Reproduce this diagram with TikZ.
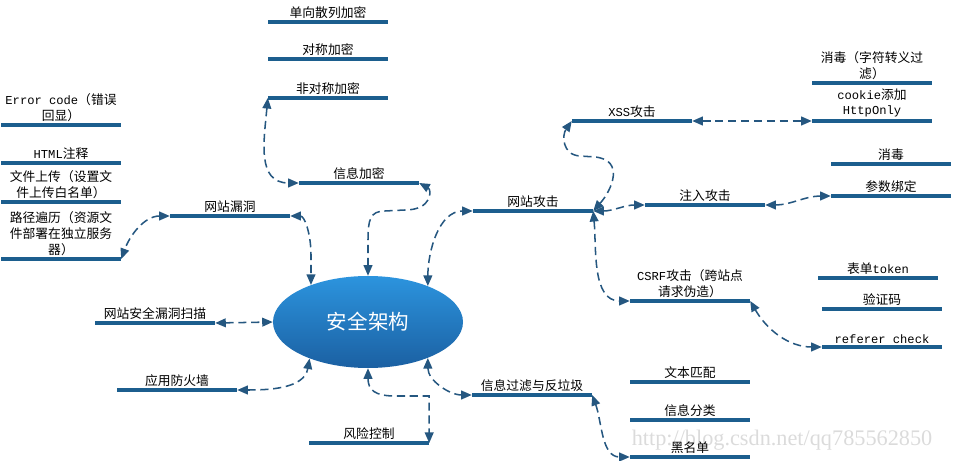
\documentclass[tikz,border=0pt]{standalone}
\usepackage{fontspec}
\setmainfont{Noto Sans CJK SC}
\newfontfamily\mono[Scale=0.95]{Liberation Mono}
\newfontfamily\markfont{Liberation Serif}
\usetikzlibrary{arrows.meta,shapes.geometric}
\definecolor{barblu}{RGB}{28,94,142}
\definecolor{linkblu}{RGB}{37,87,128}
\definecolor{coretop}{RGB}{44,148,222}
\definecolor{corebot}{RGB}{27,96,162}
\newcommand{\codetxt}[1]{{\mono #1}}

\begin{document}
\begin{tikzpicture}[
    x=0.03cm, y=-0.03cm,
    bar/.style={fill=barblu, inner sep=0pt, minimum height=0.12cm, minimum width=#1*0.03cm},
    bar/.default=120,
    lbl/.style={font=\fontsize{10.9}{13.5}\selectfont, align=center, inner sep=1pt},
    core/.style={ellipse, minimum width=5.7cm, minimum height=2.76cm, top color=coretop, bottom color=corebot, text=white, font=\fontsize{17.5}{20}\selectfont},
    link/.style={draw=linkblu, line width=1.3pt, dash pattern=on 7pt off 4pt, {Triangle[length=9pt,width=7.5pt]}-{Triangle[length=9pt,width=7.5pt]}}
]
\useasboundingbox (0,0) rectangle (954,461);

% Filigrana
\node[font=\markfont\fontsize{19}{20}\selectfont, text=gray!28] (mark) at (782,440) {http://blog.csdn.net/qq785562850};

% Nodo centrale
\node[core] (core) at (368,322) {安全架构};

% Informazioni crittografate
\node[bar, label={[lbl]above:单向散列加密}] (hash) at (328,22) {};
\node[bar, label={[lbl]above:对称加密}] (sym) at (328,59) {};
\node[bar, label={[lbl]above:非对称加密}] (asym) at (328,98) {};
\node[bar, label={[lbl]above:信息加密}] (enc) at (359,183) {};

% Vulnerabilita del sito
\node[bar, label={[lbl]above:网站漏洞}] (vuln) at (230,216) {};
\node[bar, label={[lbl]above:{\codetxt{Error code}（错误\\回显）}}] (errc) at (61,125) {};
\node[bar, label={[lbl]above:{\codetxt{HTML}注释}}] (html) at (61,163) {};
\node[bar, label={[lbl]above:{文件上传（设置文\\件上传白名单）}}] (upload) at (61,202) {};
\node[bar, label={[lbl]above:{路径遍历（资源文\\件部署在独立服务\\器）}}] (path) at (61,259) {};

% Sinistra e basso
\node[bar, label={[lbl]above:网站安全漏洞扫描}] (scan) at (155,323) {};
\node[bar, label={[lbl]above:应用防火墙}] (waf) at (177,390) {};
\node[bar, label={[lbl]above:风险控制}] (risk) at (369,443) {};

% Filtro informazioni
\node[bar, label={[lbl]above:信息过滤与反垃圾}] (filter) at (532,395) {};
\node[bar, label={[lbl]above:文本匹配}] (match) at (690,382) {};
\node[bar, label={[lbl]above:信息分类}] (classify) at (690,420) {};
\node[bar, label={[lbl]above:黑名单}] (black) at (690,457) {};

% Attacchi al sito
\node[bar, label={[lbl]above:网站攻击}] (attack) at (533,211) {};
\node[bar, label={[lbl]above:{\codetxt{XSS}攻击}}] (xss) at (632,121) {};
\node[bar, label={[lbl]above:{消毒（字符转义过\\滤）}}] (escape) at (872,83) {};
\node[bar, label={[lbl]above:{\codetxt{cookie}添加\\\codetxt{HttpOnly}}}] (httponly) at (872,121) {};
\node[bar, label={[lbl]above:注入攻击}] (inject) at (705,205) {};
\node[bar, label={[lbl]above:消毒}] (sanit) at (891,164) {};
\node[bar, label={[lbl]above:参数绑定}] (bind) at (891,196) {};
\node[bar, label={[lbl]above:{\codetxt{CSRF}攻击（跨站点\\请求伪造）}}] (csrf) at (690,301) {};
\node[bar, label={[lbl]above:{表单\codetxt{token}}}] (token) at (878,278) {};
\node[bar, label={[lbl]above:验证码}] (captcha) at (882,309) {};
\node[bar, label={[lbl]above:{\codetxt{referer check}}}] (referer) at (882,347) {};

% Collegamenti
\draw[link] (asym.west) to[out=-95,in=180,looseness=1.2] (enc.west);
\draw[link] (enc.east) .. controls (432,190) and (432,210) .. (405,210) -- (385,211) .. controls (370,211) and (368,220) .. (368,240) -- (core.north);
\draw[link] (vuln.east) .. controls (305,216) and (311,235) .. (311,255) -- (core.147);
\draw[link] (vuln.west) to[out=180,in=70] (path.east);
\draw[link] (scan.east) -- (core.west);
\draw[link] (waf.east) to[out=0,in=-100] (core.212);
\draw[link] (core.south) .. controls (368,390) and (375,396) .. (395,396) -- (429,396) -- (risk.east);
\draw[link] (core.329) to[out=-90,in=180] (filter.west);
\draw[link] (core.31) to[out=90,in=180] (attack.west);
\draw[link] (attack.east) .. controls (612,190) and (625,160) .. (595,157) -- (580,156) .. controls (562,155) and (562,135) .. (xss.west);
\draw[link] (attack.east) to[out=0,in=180] (inject.west);
\draw[link] (attack.east) to[out=-85,in=180] (csrf.west);
\draw[link] (xss.east) -- (httponly.west);
\draw[link] (inject.east) to[out=0,in=180] (bind.west);
\draw[link] (csrf.east) to[out=-60,in=180] (referer.west);
\draw[link] (filter.east) to[out=-70,in=180] (black.west);

\end{tikzpicture}
\end{document}
